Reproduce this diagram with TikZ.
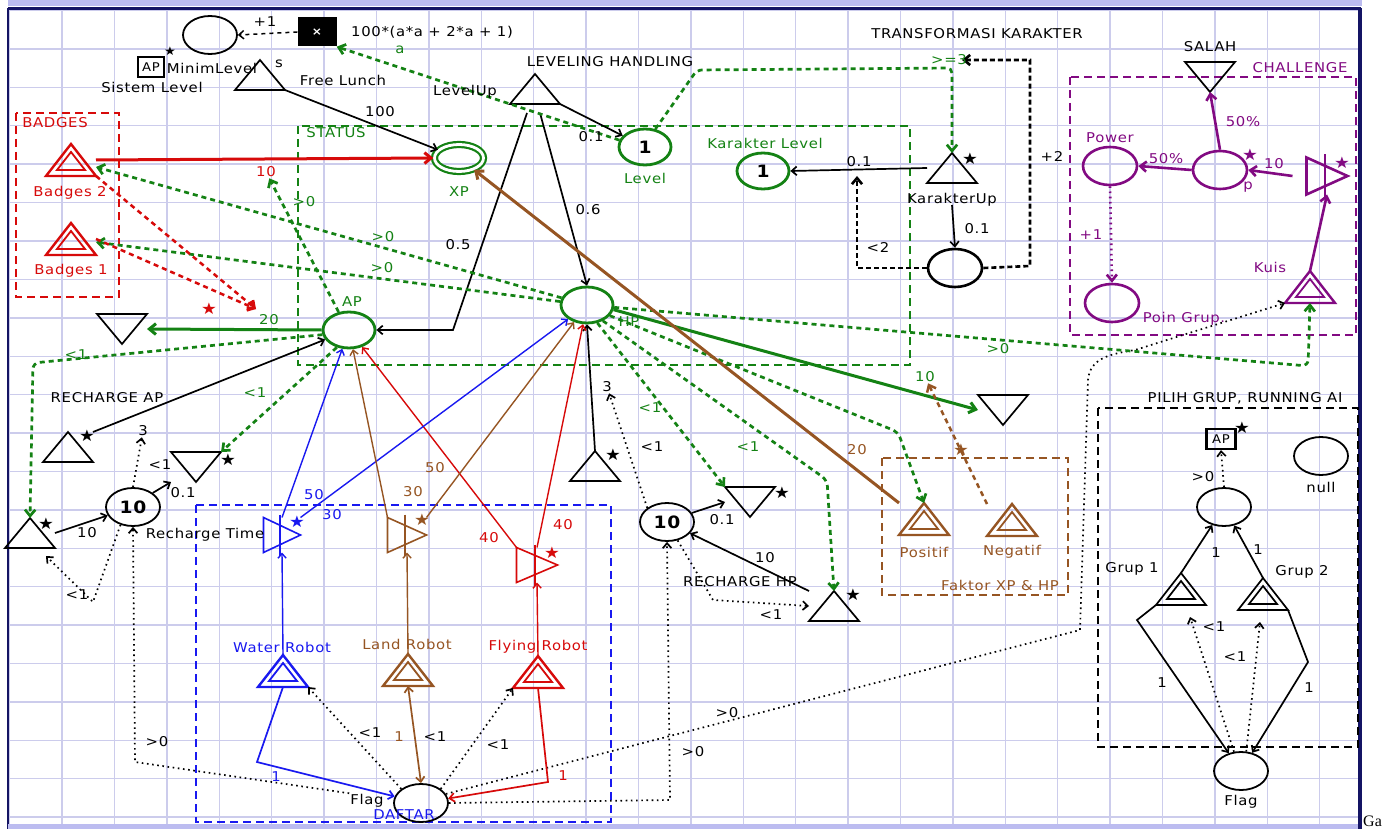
\documentclass[tikz,border=0pt]{standalone}
\usepackage{fontspec}
\setmainfont{DejaVu Sans}[FakeStretch=1.1,LetterSpace=5]
\newfontfamily\gaserif{Liberation Serif}
\usetikzlibrary{arrows.meta,shapes.geometric,calc}
\definecolor{mgreen}{RGB}{20,130,20}
\definecolor{mred}{RGB}{215,10,10}
\definecolor{mbrown}{RGB}{150,85,35}
\definecolor{mblue}{RGB}{25,25,240}
\definecolor{mpurple}{RGB}{130,10,130}
\definecolor{gridc}{RGB}{204,204,236}
\definecolor{bandc}{RGB}{188,188,240}
\definecolor{navy}{RGB}{20,20,100}
\newcommand\mBig{\bfseries\fontsize{17}{19}\selectfont}
\newcommand\mSrc[4]{\node[tri] (#2) at (#3,#4) {};\draw[line width=1.7pt,#1] (#2.south west)--(#2.north)--(#2.south east)--cycle;}
\newcommand\mDrn[4]{\node[tri] (#2) at (#3,#4) {};\draw[line width=1.7pt,#1] (#2.north west)--(#2.south)--(#2.north east)--cycle;}
\newcommand\mDbl[4]{\node[tri,minimum height=32] (#2) at (#3,#4) {};\draw[line width=2.4pt,#1] (#2.south west)--(#2.north)--(#2.south east)--cycle;\draw[line width=1.8pt,#1] ($(#2.south west)+(11,-6)$)--($(#2.north)+(0,8)$)--($(#2.south east)+(-11,-6)$)--cycle;}
\newcommand\mCnv[6]{\node[tri,minimum width=#5,minimum height=#6] (#2) at (#3,#4) {};\draw[line width=1.6pt,#1] (#2.north west)--(#2.east)--(#2.south west)--cycle;\draw[line width=1.6pt,#1] ($(#2.north west)!0.45!(#2.north east)+(0,-3)$)--($(#2.south west)!0.45!(#2.south east)+(0,3)$);}
\tikzset{
  lab/.style={font=\fontsize{13.5}{15}\selectfont, inner sep=1pt},
  starl/.style={font=\fontsize{16}{17}\selectfont, inner sep=0pt},
  pool/.style={ellipse, draw=#1, line width=1.8pt, minimum width=54, minimum height=38, inner sep=0pt},
  gpool/.style={ellipse, draw=mgreen, line width=2.8pt, minimum width=52, minimum height=36, inner sep=0pt},
  tri/.style={minimum width=50, minimum height=30, inner sep=0pt, outer sep=0pt},
  arw/.style={-{Straight Barb[length=3pt 1.2, width=6pt 1.6]}},
  arwb/.style={{Straight Barb[length=3pt 1.2, width=6pt 1.6]}-{Straight Barb[length=3pt 1.2, width=6pt 1.6]}},
  cflow/.style={arw, line width=1.7pt},
  thickf/.style={arw, line width=3pt},
  gst/.style={arw, mgreen, line width=2.7pt, dash pattern=on 5pt off 4pt},
  dotst/.style={arw, black, line width=1.7pt, dash pattern=on 1.6pt off 3.6pt},
  grp/.style={draw=#1, line width=1.4pt, dash pattern=on 8pt off 5pt},
}
\begin{document}
\begin{tikzpicture}[x=1pt,y=-1pt]
\useasboundingbox (0,0) rectangle (1394,829);
\fill[white] (0,0) rectangle (1394,829);
% grid
\foreach \i in {0,...,25}{\draw[gridc,line width=1.4pt] ({9.6+52.4*\i},9) -- ({9.6+52.4*\i},824);}
\foreach \j in {0,...,21}{\draw[gridc,line width=1.4pt] (8,{10.6+38.4*\j}) -- (1360,{10.6+38.4*\j});}
% frame
\fill[bandc] (8,0) rectangle (1362,6);
\draw[navy,line width=3pt] (8,9) -- (1361,9);
\draw[navy,line width=1.5pt] (8,8) -- (8,829);
\draw[navy,line width=4pt] (1360,8) -- (1360,829);
\fill[bandc] (8,824) rectangle (1358,829);
\node[font=\gaserif\fontsize{16}{18}\selectfont, anchor=west, inner sep=0pt] (ga) at (1363,821) {Ga};

% groups
\draw[grp=mred] (16,113) rectangle (119,297);
\draw[grp=mgreen] (298,126) rectangle (910,365);
\draw[grp=mblue, line width=1.7pt] (196,505) rectangle (611,822);
\draw[grp=mbrown] (882,458) rectangle (1068,595);
\draw[grp=mpurple] (1070,77) rectangle (1356,335);
\draw[grp=black, line width=1.7pt] (1098,408) rectangle (1358,747);

% pools
\node[pool=black] (ptop) at (210,35) {};
\node[fill=black, minimum width=39, minimum height=29, inner sep=0pt, text=white, font=\bfseries\fontsize{11}{12}\selectfont] (box) at (317,32) {×};
\node[draw, line width=1.6pt, minimum width=26, minimum height=20, inner sep=0pt, font=\fontsize{12}{13}\selectfont] (apb1) at (151,67) {AP};
\node[ellipse, draw=mgreen, double=white, double distance=2.8pt, line width=2.2pt, minimum width=49, minimum height=27, inner sep=0pt] (XP) at (459,158) {};
\node[gpool] (level) at (645,147) {\mBig 1};
\node[gpool] (karlvl) at (763,171) {\mBig 1};
\node[pool=black, line width=2.6pt] (kpool) at (955,268) {};
\node[gpool] (AP) at (349,330) {};
\node[gpool] (HP) at (587,305) {};
\node[pool=black] (p10a) at (133,507) {\mBig 10};
\node[pool=black] (p10b) at (667,522) {\mBig 10};
\node[pool=black] (daftar) at (421,803) {};
\node[pool=mpurple, line width=2.6pt] (ppool) at (1220,170) {};
\node[pool=mpurple, line width=2.6pt] (power) at (1110,166) {};
\node[pool=mpurple, line width=2.6pt] (poin) at (1112,303) {};
\node[pool=black] (nullp) at (1321,456) {};
\node[pool=black] (pg) at (1224,507) {};
\node[pool=black] (flag) at (1241,771) {};
\node[draw, line width=2.2pt, minimum width=29, minimum height=20, inner sep=0pt, font=\fontsize{12}{13}\selectfont] (apb2) at (1221,439) {AP};

% triangles
\mSrc{black}{fl}{260}{75}
\mSrc{black}{lvup}{535}{89}
\mSrc{black}{kup}{952}{168}
\mDrn{black}{dAP}{122}{329}
\mSrc{black}{rap}{68}{447}
\mDrn{black}{d1}{196}{467}
\mSrc{black}{s0}{30}{533}
\mSrc{black}{shp}{595}{466}
\mDrn{black}{d2}{750}{502}
\mSrc{black}{rhp}{834}{606}
\mDrn{black}{dHP}{1003}{410}
\mDrn{black}{salah}{1210}{77}
\mDbl{mred}{b2}{71}{160}
\mDbl{mred}{b1}{71}{239}
\mDbl{mblue}{wr}{283}{671}
\mDbl{mbrown}{lr}{408}{670}
\mDbl{mred}{fr}{538}{672}
\mDbl{mbrown}{pos}{924}{519}
\mDbl{mbrown}{neg}{1012}{520}
\mDbl{mpurple}{kuis}{1310}{287}
\mDbl{black,line width=1.7pt}{g1}{1181}{589}
\mDbl{black,line width=1.7pt}{g2}{1263}{594}
\mCnv{mblue}{wc}{282}{535}{37}{35}
\mCnv{mbrown}{lc}{407}{535}{39}{35}
\mCnv{mred}{fc}{537}{565}{41}{35}
\mCnv{mpurple,line width=2.6pt}{pconv}{1327}{176}{41}{37}

% label nodes used as connector targets
\node[lab] (l3a) at (143,431) {3};
\node[lab] (l3b) at (607,387) {3};
\node[lab] (lflag) at (367,801) {Flag};
\node[lab, mred] (l10r) at (266,172) {10};
\node[lab, mgreen] (l10g) at (925,377) {10};
\coordinate (c1) at (46,556);
\coordinate (c2) at (1190,617);
\coordinate (c3) at (1260,622);
\coordinate (rb) at (256,309);

% black flows
\draw[cflow] (fl.south east) -- (XP);
\draw[cflow] (lvup.south east) -- (level);
\draw[cflow] ($(lvup.south)+(-8,9)$) -- (453,330) -- (AP.east);
\draw[cflow] ($(lvup.south)+(5,9)$) -- (HP.north);
\draw[cflow] (kup.west) -- (karlvl.east);
\draw[cflow] ($(kup.south)+(0,22)$) -- (kpool.north);
\draw[cflow] (rap.north east) -- (AP);
\draw[cflow] (s0.east) -- (p10a);
\draw[cflow] (p10a.north east) -- (d1.south west);
\draw[cflow] (shp.north) -- (HP.south);
\draw[cflow] (p10b.20) -- (d2.west);
\draw[cflow] (rhp.north west) -- (p10b);
\draw[cflow] (g1.north) -- (pg);
\draw[cflow] (g2.north) -- (pg);
\draw[cflow] (g1.south west) -- (1137,620) -- (flag);
\draw[cflow] (g2.south east) -- (1308,662) -- (flag);

% black dashed
\draw[arw, line width=1.5pt, dash pattern=on 4pt off 4pt] (box.west) -- (ptop.east);
\draw[arw, line width=2.6pt, dash pattern=on 5pt off 3pt] (kpool.west) -- (857,268) -- (857,176);
\draw[arw, line width=2.6pt, dash pattern=on 5pt off 3pt] (kpool.east) -- (1030,266) -- (1030,60) -- (962,60);

% dotted state connections
\draw[dotst] (p10a.north) -- (l3a);
\draw[dotst] (p10a.235) -- (93,602) -- (c1);
\draw[dotst] (lflag.north west) -- (135,762) -- (p10a.south);
\draw[dotst] (daftar.north west) -- (wr.south east);
\draw[dotst] (daftar.north east) -- (fr.south west);
\draw[dotst] (daftar.east) -- (670,800) -- (p10b.south);
\draw[dotst] (daftar.20) -- (1080,630) -- (1088,380) .. controls (1090,358) and (1110,354) .. (1135,350) -- (kuis.south west);
\draw[dotst] (p10b.north west) -- (l3b);
\draw[dotst] (p10b.-60) -- (713,600) -- (rhp.west);
\draw[dotst] (pg.north) -- (apb2.south);
\draw[dotst] (flag.110) -- (c2);
\draw[dotst] (flag.75) -- (c3);
\draw[dotst, mpurple, line width=2.6pt] (power.south) -- (poin.north);

% green state connections
\draw[gst] (level.165) -- (box.south east);
\draw[gst, rounded corners=5pt] (level.60) -- (697,70) -- (952,68) -- (kup.north);
\draw[gst] (AP.120) -- (l10r);
\draw[gst] (HP) -- (b2);
\draw[gst] (HP) -- (b1);
\draw[gst, rounded corners=6pt] (AP.190) -- (33,363) -- (s0.north);
\draw[gst] (AP.235) -- (d1.north east);
\draw[gst] (HP.-60) -- (d2.north west);
\draw[gst, rounded corners=6pt] (HP.-45) -- (827,480) -- (rhp.north);
\draw[gst, rounded corners=6pt] (HP.-25) -- (898,432) -- (pos.north);
\draw[gst, rounded corners=6pt] (HP.-5) -- (1308,366) -- (kuis.south);

% green flows
\draw[thickf, mgreen] (AP.west) -- (dAP.east);
\draw[thickf, mgreen] (HP.-10) -- (dHP.west);

% red
\draw[thickf, mred] (b2.east) -- (XP.west);
\draw[arw, mred, line width=2.5pt, dash pattern=on 5pt off 4pt] (b2.south east) -- (rb);
\draw[arw, mred, line width=2.5pt, dash pattern=on 5pt off 4pt] (b1.east) -- (rb);
\draw[cflow, mred, line width=1.4pt] (fc.north west) -- (AP);
\draw[cflow, mred, line width=1.4pt] (fc.north) -- (HP);
\draw[cflow, mred, line width=1.4pt] (fr.north) -- (fc.south);
\draw[cflow, mred, line width=1.7pt] (fr.south) -- (548,782) -- (daftar);

% blue
\draw[cflow, mblue, line width=1.4pt] (wc.north) -- (AP);
\draw[cflow, mblue, line width=1.4pt] (wc.north east) -- (HP);
\draw[cflow, mblue, line width=1.4pt] (wr.north) -- (wc.south);
\draw[cflow, mblue, line width=1.7pt] (wr.south) -- (257,762) -- (daftar);

% brown
\draw[cflow, mbrown, line width=1.4pt] (lc.north west) -- (AP);
\draw[cflow, mbrown, line width=1.4pt] (lc.north east) -- (HP);
\draw[cflow, mbrown, line width=1.4pt] (lr.north) -- (lc.south);
\draw[arwb, mbrown, line width=1.7pt] (lr.south) -- (daftar.north);
\draw[thickf, mbrown] (pos.north west) -- (XP);
\draw[arw, mbrown, line width=2.5pt, dash pattern=on 5pt off 4pt] (neg.north west) -- (l10g);

% purple
\draw[cflow, mpurple, line width=2.6pt] (ppool.north) -- (salah.south);
\draw[cflow, mpurple, line width=2.6pt] (ppool.west) -- (power.east);
\draw[cflow, mpurple, line width=2.6pt] ($(pconv.west)+(-14,0)$) -- (ppool.east);
\draw[cflow, mpurple, line width=2.6pt] (kuis.north) -- (pconv.south);

% black labels
\node[lab] (t1) at (265,22) {+1};
\node[lab] (t2) at (432,32) {100*(a*a + 2*a + 1)};
\node[lab] (t3) at (212,68) {MinimLevel};
\node[lab] (t4) at (279,64) {s};
\node[lab] (t5) at (152,87) {Sistem Level};
\node[lab] (t6) at (343,80) {Free Lunch};
\node[lab] (t7) at (380,112) {100};
\node[lab] (t8) at (465,92) {LevelUp};
\node[lab] (t9) at (610,62) {LEVELING HANDLING};
\node[lab] (t10) at (591,137) {0.1};
\node[lab] (t11) at (588,210) {0.6};
\node[lab] (t12) at (458,245) {0.5};
\node[lab] (t13) at (977,34) {TRANSFORMASI KARAKTER};
\node[lab] (t14) at (859,162) {0.1};
\node[lab] (t15) at (952,200) {KarakterUp};
\node[lab] (t16) at (977,229) {0.1};
\node[lab] (t17) at (878,247) {<2};
\node[lab] (t18) at (1052,156) {+2};
\node[lab] (t19) at (1210,47) {SALAH};
\node[lab] (t20) at (107,398) {RECHARGE AP};
\node[lab] (t21) at (160,465) {<1};
\node[lab] (t22) at (183,493) {0.1};
\node[lab] (t23) at (87,533) {10};
\node[lab] (t24) at (205,535) {Recharge Time};
\node[lab] (t25) at (77,595) {<1};
\node[lab] (t26) at (157,742) {>0};
\node[lab] (t27) at (370,733) {<1};
\node[lab] (t28) at (435,737) {<1};
\node[lab] (t29) at (498,745) {<1};
\node[lab] (t30) at (652,447) {<1};
\node[lab] (t31) at (722,520) {0.1};
\node[lab] (t32) at (765,558) {10};
\node[lab] (t33) at (740,582) {RECHARGE HP};
\node[lab] (t34) at (771,615) {<1};
\node[lab] (t35) at (727,713) {>0};
\node[lab] (t36) at (693,752) {>0};
\node[lab] (t37) at (1245,398) {PILIH GRUP, RUNNING AI};
\node[lab] (t38) at (1203,477) {>0};
\node[lab] (t39) at (1321,487) {null};
\node[lab] (t40) at (1216,553) {1};
\node[lab] (t41) at (1258,550) {1};
\node[lab] (t42) at (1132,569) {Grup 1};
\node[lab] (t43) at (1302,572) {Grup 2};
\node[lab] (t44) at (1214,627) {<1};
\node[lab] (t45) at (1235,657) {<1};
\node[lab] (t46) at (1162,683) {1};
\node[lab] (t47) at (1309,688) {1};
\node[lab] (t48) at (1241,802) {Flag};

% green labels
\node[lab, mgreen] (g1l) at (400,50) {a};
\node[lab, mgreen] (g2l) at (336,133) {STATUS};
\node[lab, mgreen] (g3l) at (459,192) {XP};
\node[lab, mgreen] (g4l) at (645,178) {Level};
\node[lab, mgreen] (g5l) at (949,60) {>=3};
\node[lab, mgreen] (g6l) at (765,143) {Karakter Level};
\node[lab, mgreen] (g7l) at (304,202) {>0};
\node[lab, mgreen] (g8l) at (383,237) {>0};
\node[lab, mgreen] (g9l) at (382,268) {>0};
\node[lab, mgreen] (g10l) at (269,320) {20};
\node[lab, mgreen] (g11l) at (352,302) {AP};
\node[lab, mgreen] (g12l) at (629,322) {HP};
\node[lab, mgreen] (g13l) at (76,355) {<1};
\node[lab, mgreen] (g14l) at (255,393) {<1};
\node[lab, mgreen] (g15l) at (650,408) {<1};
\node[lab, mgreen] (g16l) at (748,447) {<1};
\node[lab, mgreen] (g17l) at (998,349) {>0};

% red labels
\node[lab, mred] (r1l) at (55,123) {BADGES};
\node[lab, mred] (r2l) at (70,193) {Badges 2};
\node[lab, mred] (r3l) at (71,271) {Badges 1};
\node[lab, mred] (r4l) at (489,538) {40};
\node[lab, mred] (r5l) at (563,525) {40};
\node[lab, mred] (r6l) at (538,647) {Flying Robot};
\node[lab, mred] (r7l) at (563,776) {1};

% blue labels
\node[lab, mblue] (bl1) at (314,495) {50};
\node[lab, mblue] (bl2) at (332,515) {30};
\node[lab, mblue] (bl3) at (282,647) {Water Robot};
\node[lab, mblue] (bl4) at (276,777) {1};
\node[lab, mblue] (bl5) at (404,815) {DAFTAR};

% brown labels
\node[lab, mbrown] (br1) at (435,468) {50};
\node[lab, mbrown] (br2) at (413,492) {30};
\node[lab, mbrown] (br3) at (857,450) {20};
\node[lab, mbrown] (br4) at (407,644) {Land Robot};
\node[lab, mbrown] (br5) at (399,737) {1};
\node[lab, mbrown] (br6) at (924,552) {Positif};
\node[lab, mbrown] (br7) at (1012,552) {Negatif};
\node[lab, mbrown] (br8) at (1000,585) {Faktor XP \& HP};

% purple labels
\node[lab, mpurple] (pl1) at (1300,68) {CHALLENGE};
\node[lab, mpurple] (pl2) at (1243,122) {50\%};
\node[lab, mpurple] (pl3) at (1110,138) {Power};
\node[lab, mpurple] (pl4) at (1166,159) {50\%};
\node[lab, mpurple] (pl5) at (1274,164) {10};
\node[lab, mpurple] (pl6) at (1248,187) {p};
\node[lab, mpurple] (pl7) at (1091,235) {+1};
\node[lab, mpurple] (pl8) at (1270,267) {Kuis};
\node[lab, mpurple] (pl9) at (1184,319) {Poin Grup.};

% stars
\node[starl, font=\fontsize{12}{13}\selectfont] (s1) at (170,51) {★};
\node[starl] (s2) at (87,436) {★};
\node[starl] (s3) at (228,460) {★};
\node[starl] (s4) at (46,524) {★};
\node[starl] (s5) at (613,455) {★};
\node[starl] (s6) at (782,493) {★};
\node[starl] (s7) at (853,595) {★};
\node[starl] (s8) at (970,159) {★};
\node[starl] (s9) at (1242,428) {★};
\node[starl, mblue] (s10) at (297,522) {★};
\node[starl, mbrown] (s11) at (422,520) {★};
\node[starl, mred] (s12) at (552,553) {★};
\node[starl, mred] (s13) at (209,309) {★};
\node[starl, mbrown] (s14) at (961,450) {★};
\node[starl, mpurple] (s15) at (1250,155) {★};
\node[starl, mpurple] (s16) at (1342,163) {★};
\end{tikzpicture}
\end{document}
